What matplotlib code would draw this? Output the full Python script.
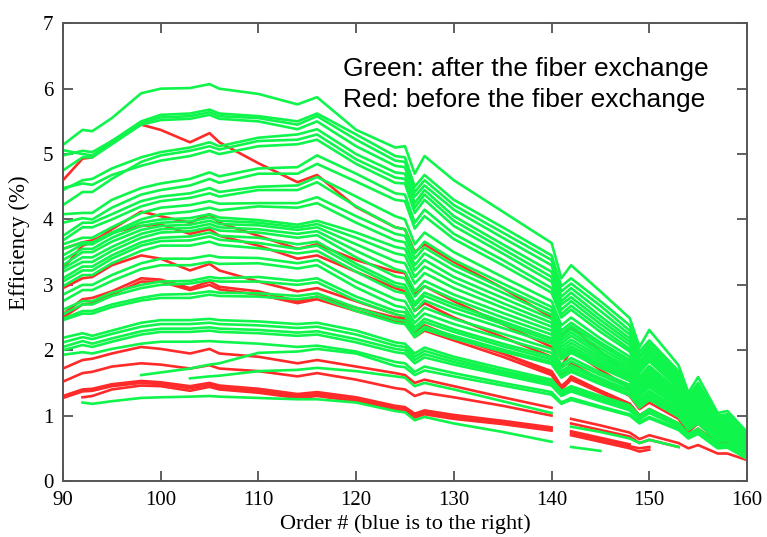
import numpy as np
import matplotlib
matplotlib.use('Agg')
import matplotlib.pyplot as plt

nan = np.nan

# echelle orders where the efficiency was sampled
orders = [90, 92, 93, 95, 98, 100, 103, 105, 106, 110, 114, 116, 120, 124, 125, 126,
          127, 130, 135, 140, 141, 142, 145, 148, 149, 150, 153, 154, 155, 157, 158, 160]

# green: after the fiber exchange
g1 = [5.14, 5.37, 5.35, 5.55, 5.93, 6.00, 6.01, 6.07, 6.00, 5.92, 5.76, 5.87, 5.37, 5.10, 5.12, 4.70,
      4.97, 4.60, 4.12, 3.64, 3.10, 3.30, 2.90, 2.49, 2.05, 2.31, 1.77, 1.35, 1.59, 1.04, 1.07, 0.75]
g2 = [4.98, 5.05, 5.03, 5.20, 5.50, 5.60, 5.62, 5.68, 5.62, 5.58, 5.50, 5.62, 5.30, 4.97, 4.95, 4.50,
      4.68, 4.30, 3.88, 3.45, 2.98, 3.10, 2.75, 2.38, 1.98, 2.15, 1.68, 1.30, 1.50, 1.00, 1.02, 0.72]
g3 = [5.06, 5.00, 4.98, 5.18, 5.48, 5.56, 5.58, 5.64, 5.58, 5.55, 5.45, 5.58, 5.22, 4.90, 4.88, 4.42,
      4.60, 4.22, 3.80, 3.38, 2.90, 3.02, 2.68, 2.30, 1.92, 2.10, 1.64, 1.26, 1.46, 0.97, 0.99, 0.70]
g4 = [4.75, 4.95, 4.95, 5.15, 5.45, 5.52, 5.54, 5.60, 5.54, 5.50, 5.38, 5.50, 5.12, 4.82, 4.80, 4.35,
      4.52, 4.15, 3.72, 3.30, 2.82, 2.95, 2.60, 2.24, 1.88, 2.05, 1.60, 1.22, 1.42, 0.95, 0.97, 0.68]
h1 = [4.45, 4.60, 4.62, 4.78, 4.95, 5.03, 5.10, 5.18, 5.12, 5.25, 5.30, 5.38, 5.00, 4.72, 4.70, 4.25,
      4.45, 4.05, 3.62, 3.20, 2.75, 2.88, 2.52, 2.18, 1.82, 2.00, 1.56, 1.20, 1.40, 0.92, 0.94, 0.66]
h2 = [4.22, 4.42, 4.42, 4.62, 4.88, 4.98, 5.05, 5.12, 5.07, 5.20, 5.22, 5.30, 4.92, 4.64, 4.62, 4.18,
      4.38, 3.98, 3.55, 3.12, 2.70, 2.81, 2.46, 2.13, 1.78, 1.96, 1.52, 1.17, 1.37, 0.90, 0.92, 0.64]
h3 = [4.48, 4.55, 4.53, 4.68, 4.82, 4.90, 4.97, 5.05, 5.00, 5.12, 5.15, 5.22, 4.85, 4.56, 4.55, 4.10,
      4.30, 3.90, 3.48, 3.05, 2.62, 2.75, 2.40, 2.08, 1.74, 1.92, 1.48, 1.15, 1.34, 0.88, 0.90, 0.62]
i1 = [4.08, 4.10, 4.10, 4.30, 4.48, 4.55, 4.62, 4.72, 4.66, 4.78, 4.80, 4.98, 4.70, 4.40, 4.38, 3.95,
      4.15, 3.78, 3.38, 2.95, 2.55, 2.68, 2.34, 2.02, 1.70, 1.87, 1.45, 1.12, 1.30, 0.86, 0.88, 0.60]
i2 = [3.95, 4.02, 4.00, 4.18, 4.38, 4.45, 4.52, 4.62, 4.56, 4.70, 4.70, 4.85, 4.58, 4.30, 4.28, 3.86,
      4.05, 3.70, 3.30, 2.88, 2.50, 2.62, 2.28, 1.98, 1.66, 1.83, 1.42, 1.10, 1.28, 0.84, 0.86, 0.58]
j1 = [3.75, 3.95, 3.95, 4.08, 4.28, 4.35, 4.40, 4.48, 4.42, 4.50, 4.52, 4.65, 4.35, 4.05, 4.00, 3.62,
      3.80, 3.50, 3.12, 2.75, 2.38, 2.50, 2.18, 1.90, 1.60, 1.76, 1.38, 1.07, 1.24, 0.82, 0.84, 0.56]
j2 = [3.68, 3.88, 3.88, 4.00, 4.20, 4.28, 4.33, 4.40, 4.35, 4.45, 4.45, 4.57, 4.20, 3.88, 3.85, 3.48,
      3.66, 3.38, 3.02, 2.66, 2.30, 2.42, 2.12, 1.85, 1.56, 1.72, 1.35, 1.05, 1.21, 0.80, 0.82, 0.55]
j3 = [3.62, 3.72, 3.72, 3.88, 4.10, 4.18, 4.22, 4.28, 4.24, 4.25, 4.25, 4.34, 4.05, 3.78, 3.75, 3.40,
      3.57, 3.30, 2.95, 2.60, 2.25, 2.37, 2.08, 1.81, 1.53, 1.68, 1.32, 1.03, 1.19, 0.79, 0.80, 0.54]
j4 = [3.55, 3.65, 3.65, 3.80, 4.00, 4.08, 4.12, 4.18, 4.14, 4.20, 4.18, 4.25, 3.95, 3.68, 3.65, 3.30,
      3.48, 3.22, 2.88, 2.54, 2.20, 2.32, 2.03, 1.77, 1.50, 1.65, 1.30, 1.01, 1.17, 0.78, 0.79, 0.53]
k1 = [3.45, 3.62, 3.62, 3.78, 3.95, 4.00, 4.02, 4.08, 4.03, 3.99, 3.92, 3.98, 3.80, 3.58, 3.55, 3.22,
      3.38, 3.12, 2.80, 2.48, 2.15, 2.27, 1.98, 1.73, 1.47, 1.62, 1.27, 0.99, 1.14, 0.76, 0.77, 0.52]
k2 = [3.38, 3.55, 3.55, 3.72, 3.90, 3.95, 3.97, 4.03, 3.98, 3.95, 3.88, 3.93, 3.72, 3.48, 3.45, 3.12,
      3.28, 3.04, 2.72, 2.42, 2.10, 2.22, 1.94, 1.70, 1.44, 1.58, 1.24, 0.97, 1.12, 0.74, 0.75, 0.50]
k3 = [3.30, 3.50, 3.50, 3.66, 3.84, 3.90, 3.92, 3.98, 3.93, 3.91, 3.84, 3.88, 3.62, 3.36, 3.33, 3.02,
      3.18, 2.95, 2.65, 2.36, 2.05, 2.16, 1.90, 1.66, 1.40, 1.55, 1.22, 0.95, 1.10, 0.73, 0.74, 0.49]
k4 = [3.25, 3.42, 3.42, 3.58, 3.78, 3.85, 3.87, 3.93, 3.88, 3.85, 3.78, 3.82, 3.52, 3.24, 3.20, 2.90,
      3.06, 2.85, 2.57, 2.30, 2.00, 2.11, 1.86, 1.63, 1.38, 1.52, 1.20, 0.94, 1.08, 0.72, 0.73, 0.48]
k5 = [3.20, 3.35, 3.35, 3.52, 3.72, 3.80, 3.82, 3.88, 3.83, 3.80, 3.72, 3.76, 3.42, 3.13, 3.10, 2.82,
      2.98, 2.78, 2.50, 2.24, 1.96, 2.06, 1.82, 1.60, 1.36, 1.50, 1.18, 0.92, 1.06, 0.71, 0.72, 0.47]
l1 = [3.10, 3.28, 3.28, 3.45, 3.65, 3.72, 3.74, 3.80, 3.75, 3.72, 3.62, 3.66, 3.32, 3.03, 3.00, 2.72,
      2.88, 2.70, 2.44, 2.18, 1.92, 2.02, 1.78, 1.57, 1.33, 1.47, 1.16, 0.90, 1.04, 0.70, 0.71, 0.46]
l2 = [3.05, 3.22, 3.22, 3.40, 3.60, 3.67, 3.68, 3.74, 3.69, 3.64, 3.55, 3.60, 3.27, 2.98, 2.95, 2.68,
      2.83, 2.65, 2.40, 2.14, 1.89, 1.99, 1.75, 1.55, 1.31, 1.45, 1.14, 0.89, 1.03, 0.69, 0.70, 0.45]
l3 = [2.98, 3.15, 3.15, 3.33, 3.52, 3.60, 3.60, 3.66, 3.61, 3.56, 3.48, 3.52, 3.20, 2.90, 2.87, 2.60,
      2.76, 2.58, 2.34, 2.10, 1.86, 1.96, 1.73, 1.53, 1.30, 1.43, 1.13, 0.88, 1.02, 0.68, 0.69, 0.45]
m1 = [2.85, 3.00, 3.00, 3.15, 3.33, 3.40, 3.40, 3.45, 3.42, 3.41, 3.33, 3.38, 3.05, 2.78, 2.75, 2.50,
      2.65, 2.48, 2.25, 2.02, 1.78, 1.88, 1.66, 1.47, 1.25, 1.38, 1.09, 0.86, 0.98, 0.66, 0.67, 0.44]
m2 = [2.75, 2.92, 2.92, 3.06, 3.24, 3.30, 3.30, 3.35, 3.32, 3.33, 3.25, 3.30, 2.96, 2.68, 2.65, 2.42,
      2.56, 2.40, 2.18, 1.96, 1.73, 1.83, 1.62, 1.43, 1.22, 1.35, 1.07, 0.84, 0.96, 0.65, 0.66, 0.43]
n1 = [2.62, 2.75, 2.75, 2.88, 3.00, 3.05, 3.06, 3.12, 3.10, 3.12, 3.06, 3.10, 2.82, 2.60, 2.58, 2.35,
      2.48, 2.32, 2.10, 1.90, 1.68, 1.77, 1.57, 1.39, 1.19, 1.31, 1.04, 0.82, 0.93, 0.63, 0.64, 0.42]
n2 = [2.55, 2.70, 2.70, 2.83, 2.95, 3.00, 3.02, 3.07, 3.05, 3.05, 3.00, 3.04, 2.76, 2.55, 2.52, 2.30,
      2.43, 2.28, 2.06, 1.86, 1.65, 1.74, 1.54, 1.37, 1.17, 1.29, 1.02, 0.81, 0.92, 0.62, 0.63, 0.41]
n3 = [2.48, 2.60, 2.60, 2.70, 2.80, 2.85, 2.86, 2.90, 2.88, 2.87, 2.83, 2.87, 2.65, 2.47, 2.45, 2.24,
      2.36, 2.22, 2.01, 1.82, 1.60, 1.70, 1.50, 1.33, 1.14, 1.26, 1.00, 0.79, 0.90, 0.61, 0.62, 0.40]
n4 = [2.46, 2.56, 2.56, 2.66, 2.76, 2.80, 2.80, 2.85, 2.83, 2.82, 2.78, 2.82, 2.60, 2.42, 2.40, 2.20,
      2.32, 2.18, 1.98, 1.79, 1.58, 1.67, 1.48, 1.31, 1.12, 1.24, 0.98, 0.78, 0.88, 0.60, 0.61, 0.40]
o1 = [2.19, 2.26, 2.22, 2.30, 2.42, 2.46, 2.46, 2.48, 2.46, 2.44, 2.40, 2.42, 2.30, 2.12, 2.10, 1.95,
      2.04, 1.90, 1.72, 1.55, 1.38, 1.45, 1.30, 1.16, 1.00, 1.10, 0.88, 0.72, 0.80, 0.56, 0.57, 0.38]
o2 = [2.12, 2.20, 2.17, 2.25, 2.36, 2.40, 2.40, 2.42, 2.40, 2.38, 2.34, 2.36, 2.24, 2.07, 2.05, 1.90,
      1.99, 1.86, 1.68, 1.52, 1.35, 1.42, 1.27, 1.13, 0.98, 1.08, 0.86, 0.70, 0.78, 0.55, 0.56, 0.37]
o3 = [2.05, 2.14, 2.10, 2.18, 2.29, 2.33, 2.33, 2.35, 2.33, 2.31, 2.27, 2.29, 2.17, 2.02, 2.00, 1.85,
      1.94, 1.82, 1.65, 1.49, 1.32, 1.39, 1.24, 1.10, 0.96, 1.06, 0.85, 0.69, 0.77, 0.54, 0.55, 0.36]
o4 = [2.00, 2.08, 2.05, 2.13, 2.24, 2.28, 2.28, 2.30, 2.28, 2.26, 2.22, 2.24, 2.12, 1.97, 1.95, 1.80,
      1.89, 1.78, 1.62, 1.46, 1.30, 1.37, 1.22, 1.08, 0.94, 1.04, 0.83, 0.68, 0.76, 0.53, 0.54, 0.36]
p1 = [1.93, 1.97, 1.95, 2.02, 2.10, 2.13, 2.13, 2.14, 2.13, 2.10, 2.05, 2.07, 1.98, 1.82, 1.80, 1.67,
      1.75, 1.65, 1.50, 1.36, 1.20, 1.27, 1.14, 1.02, 0.90, 0.98, 0.80, 0.66, 0.73, 0.52, 0.53, 0.35]
q1 = [nan, nan, nan, nan, 1.62, 1.66, 1.72, 1.78, 1.80, 1.96, 1.98, 2.02, 1.95, 1.76, 1.74, 1.62,
      1.69, 1.60, 1.46, 1.32, 1.18, 1.24, 1.12, 1.00, 0.88, 0.96, 0.78, 0.65, 0.72, 0.50, 0.51, 0.34]
q2 = [nan, nan, nan, nan, nan, nan, 1.57, 1.60, 1.61, 1.68, 1.70, 1.73, 1.68, 1.60, 1.58, 1.45,
      1.50, 1.40, 1.22, 1.04, nan, 0.83, 0.75, 0.65, 0.58, 0.63, 0.52, nan, nan, nan, nan, nan]
s1 = [nan, 1.20, 1.18, 1.22, 1.27, 1.28, 1.29, 1.30, 1.29, 1.27, 1.25, 1.25, 1.20, 1.07, 1.05, 0.93,
      0.98, 0.88, 0.75, 0.60, nan, 0.52, 0.46, nan, nan, nan, nan, nan, nan, nan, nan, nan]

# red: before the fiber exchange
r1 = [4.60, 4.93, 4.95, 5.20, 5.45, 5.37, 5.18, 5.32, 5.18, 4.86, 4.57, 4.68, 4.19, 3.88, 3.85, 3.50,
      3.62, 3.35, 2.95, 2.50, 2.20, 2.36, 1.98, 1.60, 1.35, 1.50, 1.15, 0.90, 1.05, 0.75, 0.75, 0.50]
r2 = [3.25, 3.60, 3.65, 3.85, 4.12, 4.05, 3.95, 4.08, 3.95, 3.75, 3.55, 3.62, 3.38, 3.20, 3.18, 2.85,
      2.98, 2.75, 2.40, 2.05, 1.75, 2.00, 1.70, 1.42, 1.20, 1.30, 1.00, 0.80, 0.92, 0.68, 0.68, 0.45]
r3 = [3.55, 3.65, 3.68, 3.80, 3.90, 3.92, 3.78, 3.85, 3.75, 3.60, 3.40, 3.45, 3.20, 2.95, 2.90, 2.60,
      2.72, 2.50, 2.20, 1.90, 1.60, 1.80, 1.55, 1.30, 1.10, 1.20, 0.95, 0.75, 0.88, 0.62, 0.62, 0.42]
r4 = [2.95, 3.10, 3.12, 3.30, 3.45, 3.40, 3.22, 3.32, 3.22, 3.05, 2.90, 2.95, 2.75, 2.55, 2.50, 2.28,
      2.38, 2.20, 1.95, 1.65, 1.40, 1.60, 1.38, 1.18, 1.00, 1.10, 0.88, 0.70, 0.80, 0.58, 0.58, 0.40]
r5 = [2.50, 2.70, 2.72, 2.85, 3.05, 3.05, 2.92, 3.00, 2.93, 2.85, 2.72, 2.78, 2.60, 2.45, 2.42, 2.20,
      2.30, 2.15, 1.90, 1.62, 1.40, 1.55, 1.35, 1.15, 0.98, 1.07, 0.85, 0.68, 0.78, 0.55, 0.55, 0.38]
r6 = [2.55, 2.78, 2.80, 2.90, 3.10, 3.08, 2.95, 3.05, 2.97, 2.90, 2.75, 2.82, 2.65, 2.50, 2.48, 2.25,
      2.35, 2.20, 1.95, 1.68, 1.45, 1.58, 1.38, 1.18, 1.00, 1.09, 0.87, 0.69, 0.79, 0.56, 0.56, 0.39]
r7 = [1.72, 1.85, 1.87, 1.95, 2.05, 2.02, 1.95, 2.02, 1.95, 1.90, 1.80, 1.85, 1.75, 1.65, 1.62, 1.50,
      1.55, 1.45, 1.28, 1.12, nan, 0.95, 0.85, 0.74, 0.64, 0.70, 0.58, 0.50, 0.55, 0.42, 0.42, 0.32]
r8 = [1.52, 1.65, 1.67, 1.75, 1.80, 1.78, 1.72, 1.77, 1.72, 1.68, 1.60, 1.65, 1.55, 1.42, 1.40, 1.30,
      1.35, 1.28, 1.15, 1.00, nan, 0.88, 0.78, 0.68, 0.58, 0.63, 0.52, nan, nan, nan, nan, nan]
r9 = [1.27, 1.37, 1.38, 1.45, 1.50, 1.48, 1.42, 1.47, 1.43, 1.38, 1.30, 1.33, 1.25, 1.12, 1.10, 1.00,
      1.05, 0.98, 0.90, 0.80, nan, 0.73, 0.63, 0.53, 0.50, 0.52, nan, nan, nan, nan, nan, nan]
r10 = [nan, 1.28, 1.30, 1.40, 1.46, 1.45, 1.38, 1.44, 1.40, 1.35, 1.27, 1.30, 1.22, 1.09, 1.07, 0.97,
       1.02, 0.95, 0.87, 0.77, nan, 0.70, 0.60, 0.50, 0.45, 0.48, nan, nan, nan, nan, nan, nan]
r11 = [1.30, 1.40, 1.41, 1.48, 1.53, 1.51, 1.45, 1.50, 1.46, 1.41, 1.33, 1.36, 1.28, 1.15, 1.13, 1.03,
       1.08, 1.01, 0.92, 0.82, nan, 0.76, 0.66, 0.56, nan, nan, nan, nan, nan, nan, nan, nan]

green_lines = [g1, g2, g3, g4, h1, h2, h3, i1, i2, j1, j2, j3, j4, k1, k2, k3, k4, k5,
               l1, l2, l3, m1, m2, n1, n2, n3, n4, o1, o2, o3, o4, p1, q1, q2, s1]
red_lines = [r1, r2, r3, r4, r5, r6, r7, r8, r9, r10, r11]

GREEN = '#0FF54C'
RED = '#FF2A2A'
SERIF = 'Liberation Serif'

fig = plt.figure(figsize=(7.67, 5.37), dpi=100)
ax = fig.add_axes([0.0821, 0.1043, 0.8918, 0.8523])

for vals in red_lines:
    ax.plot(orders, vals, color=RED, lw=1.9, solid_joinstyle='round')
for vals in green_lines:
    ax.plot(orders, vals, color=GREEN, lw=1.9, solid_joinstyle='round')

ax.set_xlim(90, 160)
ax.set_ylim(0, 7)
ax.set_xticks(range(90, 161, 10))
ax.set_yticks(range(0, 8))
ax.tick_params(direction='in', length=7, width=1.2, top=True, right=True,
               labelsize=15, color='#444444', pad=7)
for lab in ax.get_xticklabels() + ax.get_yticklabels():
    lab.set_fontfamily(SERIF)
for sp in ax.spines.values():
    sp.set_color('#555555')
    sp.set_linewidth(1.4)

ax.set_ylabel('Efficiency (%)', fontsize=16.5, fontfamily=SERIF)
ax.yaxis.set_label_coords(-0.048, 0.52)
ax.set_xlabel('Order # (blue is to the right)', fontsize=16, fontfamily=SERIF)
ax.xaxis.set_label_coords(0.5, -0.073)

ax.text(118.66, 6.19, 'Green: after the fiber exchange', fontsize=19,
        fontfamily='Liberation Sans', va='baseline', ha='left')
ax.text(118.66, 5.72, 'Red: before the fiber exchange', fontsize=19,
        fontfamily='Liberation Sans', va='baseline', ha='left')

fig.savefig('out.png', dpi=100)
